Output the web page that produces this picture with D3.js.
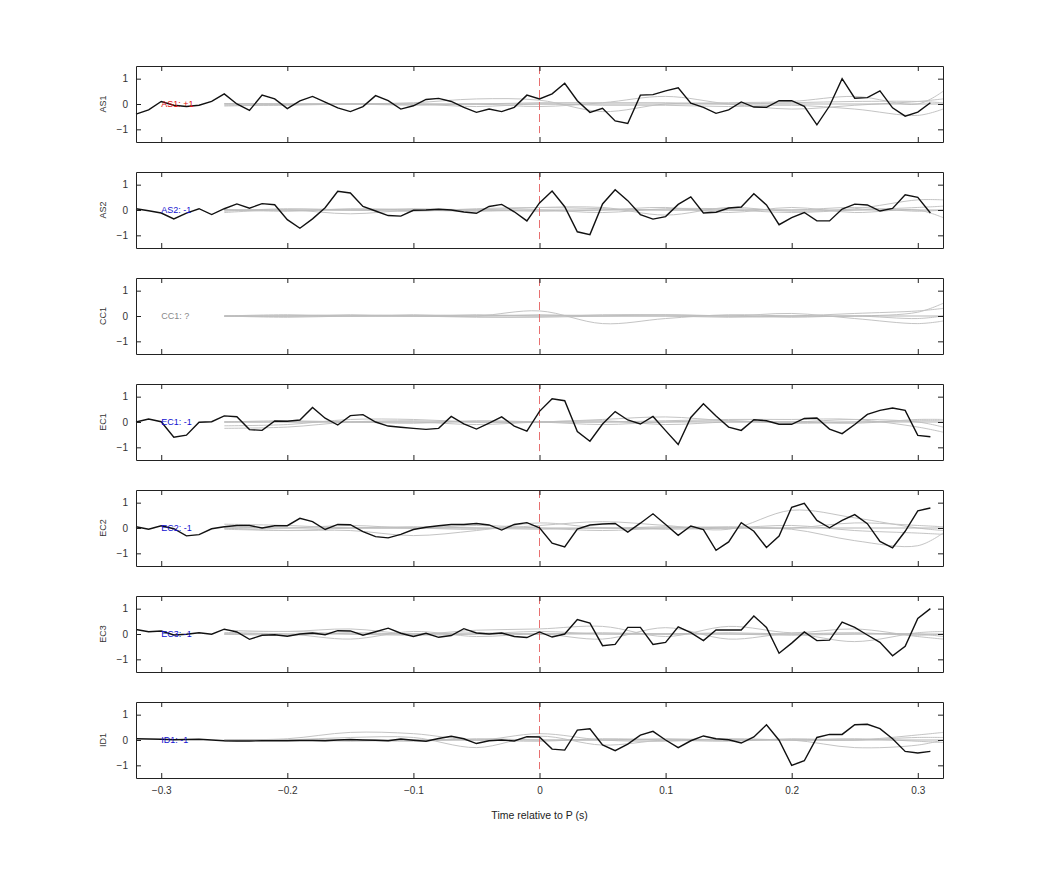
<!DOCTYPE html>
<html><head><meta charset="utf-8">
<script src="https://cdn.jsdelivr.net/npm/d3@7"></script>
<style>body{margin:0;background:#fff}text{font-family:"Liberation Sans",Arial,sans-serif}</style>
</head><body><svg id="c" width="1042" height="875"></svg>
<script>
const panels = ["AS1","AS2","CC1","EC1","EC2","EC3","ID1"];
const panelLabels = ["AS1: +1","AS2: -1","CC1: ?","EC1: -1","EC2: -1","EC3: -1","ID1: -1"];
const labelColors = ["#e01010","#1010d0","#888888","#1010d0","#1010d0","#1010d0","#1010d0"];
const xTicks = [-0.3,-0.2,-0.1,0,0.1,0.2,0.3];
const yTicks = [-1,0,1];
// black traces sampled every 0.01 s from -0.32 to 0.31
const blackStart = -0.32;
const AS1 = [-0.4,-0.23,0.1,-0.05,-0.1,-0.05,0.1,0.4,0,-0.25,0.35,0.2,-0.18,0.12,0.3,0.07,-0.15,-0.3,-0.1,0.33,0.13,-0.2,-0.07,0.18,0.22,0.1,-0.13,-0.33,-0.2,-0.3,-0.13,0.35,0.2,0.4,0.82,0.13,-0.33,-0.17,-0.67,-0.77,0.35,0.37,0.52,0.64,0.03,-0.13,-0.37,-0.23,0.08,-0.12,-0.13,0.13,0.13,-0.09,-0.82,-0.08,1.0,0.23,0.25,0.52,-0.15,-0.48,-0.32,0.05];
const AS2 = [0.05,-0.03,-0.12,-0.35,-0.12,0.05,-0.18,0.05,0.24,0.07,0.25,0.21,-0.38,-0.72,-0.35,0.09,0.74,0.67,0.14,-0.04,-0.22,-0.24,-0.01,0,0.03,0,-0.08,-0.13,0.14,0.22,-0.07,-0.43,0.28,0.75,0.13,-0.86,-0.97,0.24,0.8,0.37,-0.18,-0.36,-0.26,0.22,0.52,-0.12,-0.09,0.08,0.12,0.64,0.2,-0.58,-0.3,-0.1,-0.43,-0.43,0.04,0.23,0.2,-0.04,0.06,0.6,0.5,-0.12];
const CC1 = null;
const EC1 = [0,0.12,0.01,-0.6,-0.52,-0.01,0.01,0.24,0.21,-0.3,-0.33,0.04,0.03,0.08,0.57,0.15,-0.12,0.25,0.29,0,-0.16,-0.21,-0.25,-0.29,-0.25,0.22,-0.07,-0.28,-0.04,0.2,-0.16,-0.36,0.42,0.92,0.84,-0.38,-0.76,-0.08,0.41,0.08,-0.08,0.22,-0.34,-0.89,0.18,0.72,0.24,-0.2,-0.33,0.09,0.05,-0.09,-0.09,0.14,0.16,-0.28,-0.46,-0.1,0.3,0.46,0.55,0.46,-0.53,-0.58];
const EC2 = [0.05,-0.05,0.09,-0.03,-0.31,-0.26,-0.03,0.05,0.1,0.1,0,0.09,0.09,0.38,0.25,-0.06,0.14,0.13,-0.14,-0.34,-0.39,-0.25,-0.06,0.03,0.09,0.14,0.14,0.18,0.12,-0.08,0.14,0.21,0.01,-0.6,-0.75,-0.04,0.12,0.16,0.18,-0.16,0.19,0.56,0.14,-0.29,0.08,-0.06,-0.88,-0.55,0.21,-0.13,-0.77,-0.32,0.82,0.97,0.3,0.01,0.3,0.53,0.17,-0.53,-0.78,-0.13,0.68,0.79];
const EC3 = [0.18,0.09,0.12,-0.04,-0.01,0.05,-0.01,0.19,0.08,-0.21,-0.05,-0.03,-0.09,0,0.04,-0.03,0.13,0.12,-0.05,0.09,0.23,0.03,-0.1,0.03,-0.13,-0.06,0.21,0.04,0,0.04,-0.1,-0.14,0.08,-0.12,0,0.57,0.43,-0.46,-0.41,0.26,0.26,-0.41,-0.33,0.28,0.05,-0.26,0.16,0.16,0.16,0.71,0.26,-0.76,-0.36,0.08,-0.26,-0.24,0.47,0.26,-0.04,-0.33,-0.86,-0.49,0.61,1.0];
const ID1 = [0.05,0.04,0.03,0.01,0.02,0.03,0,-0.03,-0.04,-0.04,-0.03,-0.03,-0.03,-0.02,-0.02,-0.03,0,0.02,0,-0.01,-0.03,0.04,-0.01,-0.05,0.06,0.15,0.05,-0.14,-0.03,0,-0.04,0.13,0.12,-0.36,-0.4,0.39,0.44,-0.19,-0.42,-0.16,0.19,0.34,0,-0.3,-0.03,0.16,0.05,0.01,-0.12,0.12,0.6,-0.01,-1.0,-0.82,0.1,0.22,0.22,0.6,0.62,0.45,0.05,-0.45,-0.51,-0.45];
const blackSeries = [AS1,AS2,CC1,EC1,EC2,EC3,ID1];
// grey smooth traces at knots
const greyKnots = [-0.25,-0.2,-0.15,-0.1,-0.05,0,0.05,0.1,0.15,0.2,0.25,0.3,0.32];
const greyAS1 = [[0,0,0,0.05,0.2,0.15,-0.3,0,0.05,0.1,0.3,0,0.5],[-0.05,-0.05,0,0,-0.1,0,-0.05,-0.05,-0.1,-0.05,-0.2,-0.45,-0.2],[0.02,0,0,0,0,0.05,0.05,0.05,0,0.05,0.1,0.1,0.05],[-0.08,-0.03,0,-0.05,0,-0.1,0.05,0.3,0,-0.2,-0.05,0.1,0.2]];
const greyAS2 = [[-0.1,0,-0.15,0,0,0.1,0.1,-0.2,0.1,-0.05,0.05,0.4,0.4],[0,0,0,0.05,0,-0.05,0,0.1,-0.1,0.1,-0.1,0,-0.3],[-0.05,0.05,0,-0.05,0.05,0.1,0.05,0,0,-0.1,0,0.1,0.15],[0.02,-0.05,0.05,0,-0.05,0,-0.1,0.05,0.05,0,0.1,-0.05,0]];
const greyCC1 = [[0,0,0.05,0,0,0.2,-0.3,-0.1,0.05,0,0,0.15,0.5],[0,0.05,0,0,0.05,0,0.05,0.05,0,0.1,-0.1,-0.3,-0.2],[-0.02,0,0,0.05,0,0.05,0,0,-0.05,0,0.1,0.2,0.3],[0,-0.05,0,0,-0.05,-0.05,0,0.05,0,-0.05,0,-0.1,0]];
const greyEC1 = [[-0.25,-0.2,0,0.05,0,0,0.1,0.2,0.05,0,0.1,0,-0.2],[-0.15,-0.1,0.1,0.1,0,0,0,0.05,0.1,0.1,0.1,-0.2,-0.4],[0,0.05,0,0,-0.1,0,0.05,-0.1,0,0,-0.05,0.1,0.1],[0,0,0,-0.05,0.05,0,-0.1,0,0.05,-0.05,0,0.05,0.05]];
const greyEC2 = [[0.15,0.1,0,0,-0.05,0.1,0.25,0.1,-0.05,0.7,0.4,0,-0.1],[-0.05,-0.1,-0.1,-0.3,-0.1,0.2,0,0.05,0,-0.05,-0.5,-0.7,-0.2],[0.05,0,0.1,0,0.1,0,-0.1,0,0.05,0,0.2,0.1,0.05],[0,-0.1,0,0.05,0,-0.05,0,-0.05,0,0.1,-0.1,-0.2,-0.25]];
const greyEC3 = [[0.15,0.1,0.2,0,0.15,0.2,0.3,-0.1,0.3,0.05,0.2,-0.1,-0.2],[0,0,-0.2,0.1,-0.1,0,-0.2,0.25,-0.2,0,-0.3,0.05,0.1],[0.05,0.1,0,-0.05,0,0.1,0,0,0,-0.05,0,0,-0.1],[0,-0.05,0.05,0,0.05,0,0.05,0,0.05,0,0.05,-0.05,0]];
const greyID1 = [[0,0.05,0.3,0.25,0,0.25,0,-0.05,0.05,0,0,0.1,0.1],[-0.05,0,0.1,0.1,-0.3,0.15,-0.2,0,0,0,-0.3,-0.2,0],[0,0,-0.05,0,0,-0.05,0.05,0,-0.05,0.05,0,0.2,0.3],[0,0,0,-0.05,0.05,0,0,0.05,0,0,0.05,-0.05,-0.1]];
const greySeries = [greyAS1,greyAS2,greyCC1,greyEC1,greyEC2,greyEC3,greyID1];

const svg = d3.select("#c");
const left=136, right=943, top0=66, ph=76, gap=106;
const x = d3.scaleLinear().domain([-0.32,0.32]).range([left,right]);
const axisCol="#222", textCol="#333";
panels.forEach((name,i)=>{
  const t = top0 + i*gap;
  const y = d3.scaleLinear().domain([-1.5,1.5]).range([t+ph,t]);
  const g = svg.append("g");
  // grey traces
  const gl = d3.line().x(d=>x(d[0])).y(d=>y(d[1])).curve(d3.curveCatmullRom);
  greySeries[i].forEach(s=>{
    g.append("path").attr("d",gl(greyKnots.map((k,j)=>[k,s[j]]))).attr("fill","none").attr("stroke","#c4c4c4").attr("stroke-width",1);
  });
  // zero line in grey
  g.append("path").attr("d",gl([[-0.25,0],[0.32,0]])).attr("stroke","#b8b8b8").attr("stroke-width",1.2);
  // dashed line at 0
  g.append("line").attr("x1",x(0)).attr("x2",x(0)).attr("y1",y(1.5)).attr("y2",y(-1.15))
    .attr("stroke","#e87070").attr("stroke-dasharray","8,4").attr("stroke-width",1);
  // black trace
  const b = blackSeries[i];
  if(b){
    const bl = d3.line().x((d,j)=>x(blackStart+j*0.01)).y(d=>y(d));
    g.append("path").attr("d",bl(b)).attr("fill","none").attr("stroke","#111").attr("stroke-width",1.4);
  }
  // label
  g.append("text").attr("x",x(-0.3)).attr("y",y(0)+3).attr("font-size",9).attr("fill",labelColors[i]).text(panelLabels[i]);
  // axes (ticks inward)
  const ax = (a)=>a.tickSizeInner(-5).tickSizeOuter(0);
  const xb = g.append("g").attr("transform",`translate(0,${t+ph})`).call(ax(d3.axisBottom(x).tickValues(xTicks)).tickFormat(i===panels.length-1?d3.format(""):""));
  const xt = g.append("g").attr("transform",`translate(0,${t})`).call(ax(d3.axisTop(x).tickValues(xTicks)).tickFormat(""));
  const yl = g.append("g").attr("transform",`translate(${left},0)`).call(ax(d3.axisLeft(y).tickValues(yTicks)).tickFormat(d3.format("")));
  const yr = g.append("g").attr("transform",`translate(${right},0)`).call(ax(d3.axisRight(y).tickValues(yTicks)).tickFormat(""));
  [xb,xt,yl,yr].forEach(a=>{a.select(".domain").attr("stroke",axisCol);a.selectAll("line").attr("stroke",axisCol);
    a.selectAll("text").attr("fill",textCol).attr("font-size",10).attr("font-family","Liberation Sans, Arial, sans-serif");});
  yl.selectAll("text").attr("x",-8);
  xb.selectAll("text").attr("y",9);
  g.append("text").attr("transform",`translate(106,${t+ph/2}) rotate(-90)`).attr("text-anchor","middle")
    .attr("font-size",9).attr("fill",textCol).text(name);
});
svg.append("text").attr("x",(left+right)/2).attr("y",819).attr("text-anchor","middle").attr("font-size",10.5).attr("fill","#222").text("Time relative to P (s)");
</script></body></html>
